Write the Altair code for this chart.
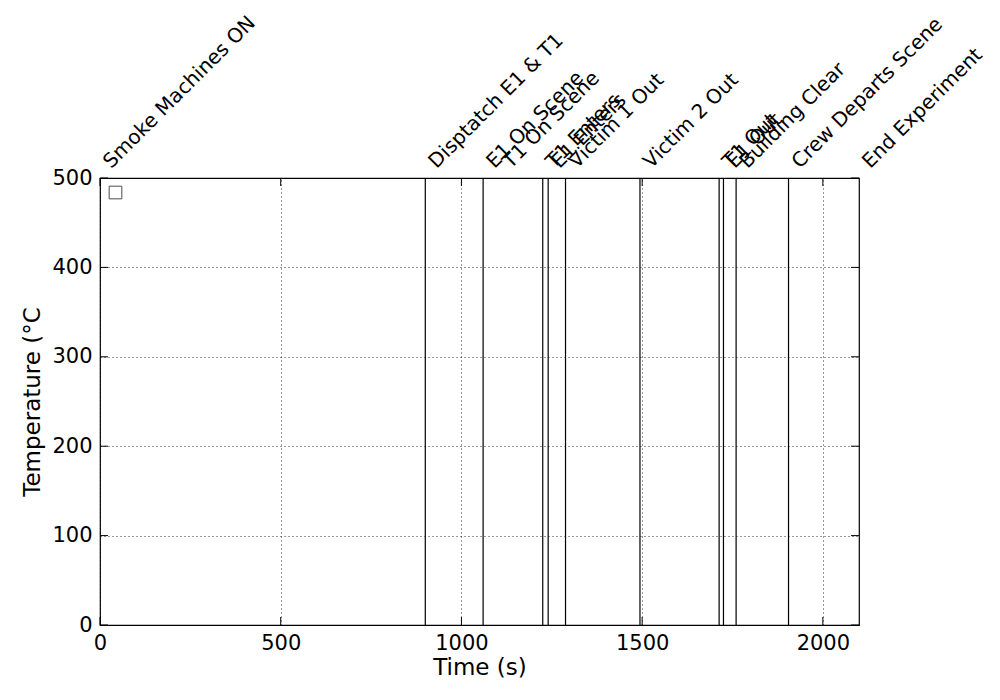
import altair as alt
import pandas as pd

# Event annotations (label, time in s)
event_labels = [
    "Smoke Machines ON", "Disptatch E1 & T1", "E1 On Scene", "T1 On Scene",
    "T1 Enters", "E1 Enters", "Victim 1 Out", "Victim 2 Out", "T1 Out",
    "E1 Out", "Building Clear", "Crew Departs Scene", "End Experiment",
]
event_times = [0, 900, 1060, 1105, 1225, 1240, 1288, 1494, 1713, 1725, 1760, 1905, 2100]
# vertical event lines drawn in the plot
line_times = [900, 1060, 1225, 1240, 1288, 1494, 1713, 1725, 1760, 1905]

x_ticks = [0, 500, 1000, 1500, 2000]
y_ticks = [0, 100, 200, 300, 400, 500]

FONT = "DejaVu Sans"
W, H = 759, 447

events = pd.DataFrame({"label": event_labels, "time": event_times})
lines = pd.DataFrame({"time": line_times})
xt = pd.DataFrame({"t": x_ticks})
yt = pd.DataFrame({"t": y_ticks})

xscale = alt.Scale(domain=[0, 2100], nice=False, zero=False)
yscale = alt.Scale(domain=[0, 500], nice=False, zero=False)

common = dict(grid=True, gridColor="black", gridDash=[1, 3], gridWidth=0.8,
              gridOpacity=1, ticks=False, labelFontSize=21, titleFontSize=23,
              titleFontWeight="normal", labelFont=FONT, titleFont=FONT,
              domain=False, labelColor="black", titleColor="black",
              labelFlush=False, format="d")
xaxis = alt.Axis(values=x_ticks, title="Time (s)", labelPadding=7,
                 titlePadding=3, **common)
yaxis = alt.Axis(values=y_ticks, title="Temperature (°C", labelPadding=8,
                 titlePadding=7, **common)

base_lines = alt.Chart(lines).mark_rule(color="black", strokeWidth=1.2).encode(
    x=alt.X("time:Q", scale=xscale, axis=xaxis),
)

# invisible layer to set y axis
yaxis_layer = alt.Chart(yt).mark_point(opacity=0).encode(
    y=alt.Y("t:Q", scale=yscale, axis=yaxis),
)

# inward tick marks on all four sides
xtick_bottom = alt.Chart(xt).mark_rule(color="black", strokeWidth=1).encode(
    x=alt.X("t:Q", scale=xscale), y=alt.value(H), y2=alt.value(H - 8))
xtick_top = alt.Chart(xt).mark_rule(color="black", strokeWidth=1).encode(
    x=alt.X("t:Q", scale=xscale), y=alt.value(0), y2=alt.value(8))
ytick_left = alt.Chart(yt).mark_rule(color="black", strokeWidth=1).encode(
    y=alt.Y("t:Q", scale=yscale), x=alt.value(0), x2=alt.value(8))
ytick_right = alt.Chart(yt).mark_rule(color="black", strokeWidth=1).encode(
    y=alt.Y("t:Q", scale=yscale), x=alt.value(W), x2=alt.value(W - 8))

labels = alt.Chart(events).mark_text(
    align="left", baseline="bottom", angle=315, fontSize=20, font=FONT,
    color="black", dx=10, dy=10,
).encode(
    x=alt.X("time:Q", scale=xscale),
    y=alt.value(-6),
    text="label:N",
)

legend_box = alt.Chart(alt.Data(values=[{"k": 1}])).mark_square(
    filled=False, stroke="black", strokeWidth=1, size=160,
).encode(x=alt.value(15.5), y=alt.value(14.5))

chart = alt.layer(
    base_lines, yaxis_layer, xtick_bottom, xtick_top, ytick_left, ytick_right,
    labels, legend_box,
).properties(
    width=W, height=H,
    autosize=alt.AutoSizeParams(type="none"),
    padding={"left": 100, "top": 178, "right": 141, "bottom": 75},
    background="white",
).configure_view(
    stroke="black", strokeWidth=1.2, clip=False,
)

chart.save("out.html", embed_options={"renderer": "svg", "actions": False})
